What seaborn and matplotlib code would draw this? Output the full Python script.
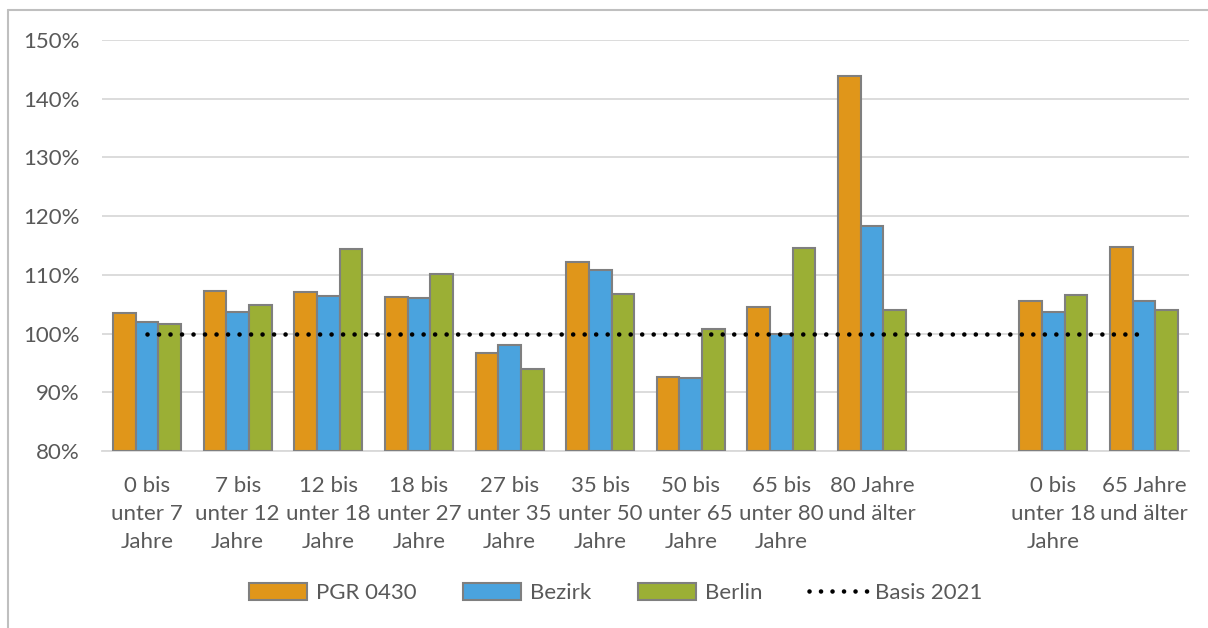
import pandas as pd
import numpy as np
import matplotlib.pyplot as plt
import seaborn as sns
from matplotlib.lines import Line2D
from matplotlib.patches import Patch

# Categories (empty slot between the two blocks)
categories = [
    "0 bis\nunter 7\nJahre",
    "7 bis\nunter 12\nJahre",
    "12 bis\nunter 18\nJahre",
    "18 bis\nunter 27\nJahre",
    "27 bis\nunter 35\nJahre",
    "35 bis\nunter 50\nJahre",
    "50 bis\nunter 65\nJahre",
    "65 bis\nunter 80\nJahre",
    "80 Jahre\nund älter",
    " ",
    "0 bis\nunter 18\nJahre",
    "65 Jahre\nund älter",
]
series = ["PGR 0430", "Bezirk", "Berlin"]

# values in percent (None for the empty slot)
pgr = [103.5, 107.3, 107.1, 106.2, 96.7, 112.2, 92.6, 104.6, 143.9, None, 105.6, 114.7]
bezirk = [101.9, 103.6, 106.4, 106.0, 98.0, 110.9, 92.4, 99.9, 118.3, None, 103.7, 105.5]
berlin = [101.7, 104.9, 114.4, 110.2, 93.9, 106.8, 100.7, 114.6, 104.0, None, 106.5, 104.0]
basis = 100
yticks = [80, 90, 100, 110, 120, 130, 140, 150]

colors = ["#E0961A", "#4AA3DE", "#9BAF35"]
text_col = "#595959"
dots = (0, (0.01, 2.5))

rows = []
for name, vals in zip(series, [pgr, bezirk, berlin]):
    for cat, v in zip(categories, vals):
        if v is not None:
            rows.append({"Kategorie": cat, "Reihe": name, "Wert": v})
df = pd.DataFrame(rows)

sns.set_style("white")
plt.rcParams["font.family"] = ["Lato", "DejaVu Sans"]

fig = plt.figure(figsize=(12.08, 6.28), dpi=100)
ax = fig.add_axes([0.0842, 0.2818, 0.9003, 0.6545])

sns.barplot(
    data=df, x="Kategorie", y="Wert", hue="Reihe",
    order=categories, hue_order=series, palette=colors, saturation=1,
    width=0.75, edgecolor="#7F7F7F", linewidth=1.5,
    errorbar=None, legend=False, ax=ax, zorder=3,
)
# bars start at the axis floor (80%)
for p in ax.patches:
    p.set_y(yticks[0])
    p.set_height(p.get_height() - yticks[0])

# Basis line across all category slots
xs = np.arange(len(categories))
ax.plot(xs, [basis] * len(xs), color="black", linewidth=3.3,
        linestyle=dots, dash_capstyle="round", zorder=4)

ax.set_ylim(yticks[0], yticks[-1])
ax.set_xlim(-0.5, len(categories) - 0.5)
ax.set_yticks(yticks)
ax.set_yticklabels([f"{v}%" for v in yticks])
ax.grid(axis="y", color="#D9D9D9", linewidth=1.3, zorder=0)
ax.set_axisbelow(True)
ax.tick_params(axis="both", length=0, labelsize=16, labelcolor=text_col)
ax.tick_params(axis="x", pad=18)
ax.tick_params(axis="y", pad=16)
ax.set_xlabel("")
ax.set_ylabel("")
for s in ["top", "right", "left"]:
    ax.spines[s].set_visible(False)
ax.spines["bottom"].set_color("#D9D9D9")
ax.spines["bottom"].set_linewidth(1.3)
for lbl in ax.get_xticklabels():
    lbl.set_linespacing(1.5)

handles = [Patch(facecolor=c, edgecolor="#7F7F7F", linewidth=1.5) for c in colors]
handles.append(Line2D([0], [0], color="black", linewidth=3.3,
                      linestyle=dots, dash_capstyle="round"))
fig.legend(handles, series + ["Basis 2021"], loc="center",
           bbox_to_anchor=(0.51, 0.056), ncol=4, frameon=False,
           fontsize=16, labelcolor=text_col, handlelength=2.6,
           handleheight=0.8, columnspacing=2.1, handletextpad=0.4)

# outer chart frame (left/top edges visible)
fig.add_artist(Line2D([8 / 1208, 8 / 1208], [0, 1 - 10 / 628], color="#BFBFBF",
                      linewidth=1.5, transform=fig.transFigure))
fig.add_artist(Line2D([8 / 1208, 1], [1 - 10 / 628, 1 - 10 / 628], color="#BFBFBF",
                      linewidth=1.5, transform=fig.transFigure))

fig.savefig("out.png", dpi=100)
